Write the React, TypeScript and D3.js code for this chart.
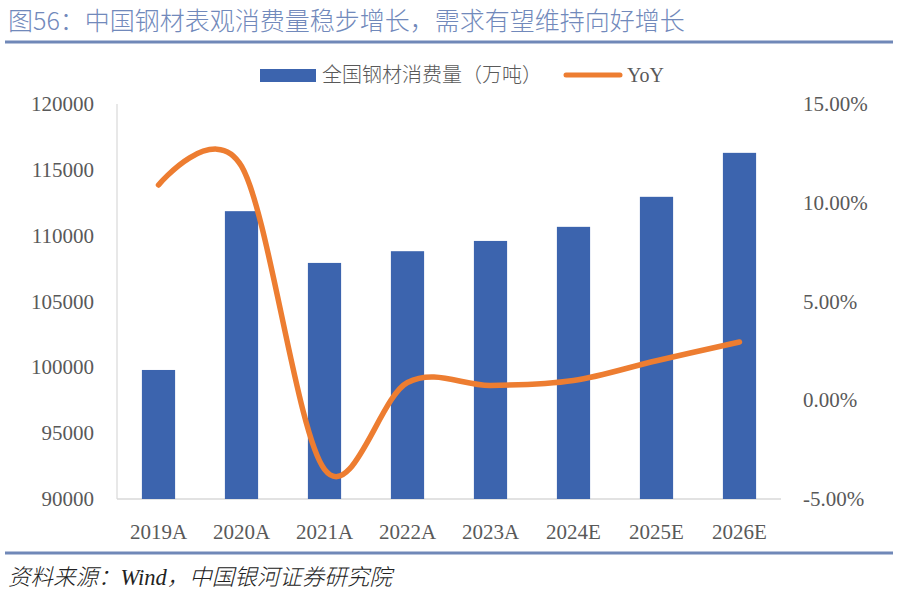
import React from "react";
import * as d3 from "d3";

const categories = ["2019A", "2020A", "2021A", "2022A", "2023A", "2024E", "2025E", "2026E"];
const consumption = [99800, 111860, 107930, 108820, 109600, 110670, 112950, 116290];
const yoy = [10.9, 11.85, -3.5, 0.9, 0.75, 1.0, 2.0, 2.95];
const leftTicks = [90000, 95000, 100000, 105000, 110000, 115000, 120000];
const rightTicks = [-5, 0, 5, 10, 15];

const W = 897;
const H = 596;
const plot = { left: 117, right: 781, top: 104, bottom: 499 };
const serif = "'Liberation Serif', 'DejaVu Serif', serif";
const cjkSerif = "'Liberation Serif', 'Noto Sans CJK SC', serif";
const sans = "'Noto Sans CJK SC', 'Noto Sans', sans-serif";

export default function App() {
  const x = d3.scaleBand<string>().domain(categories).range([plot.left, plot.right]).paddingInner(0.6).paddingOuter(0.3);
  const yL = d3.scaleLinear().domain([90000, 120000]).range([plot.bottom, plot.top]);
  const yR = d3.scaleLinear().domain([-5, 15]).range([plot.bottom, plot.top]);
  const cx = (c: string) => (x(c) ?? 0) + x.bandwidth() / 2;
  const line = d3
    .line<number>()
    .x((_, i) => cx(categories[i]))
    .y((d) => yR(d))
    .curve(d3.curveCardinal.tension(0));

  return (
    <svg width={W} height={H} style={{ position: "absolute", left: 0, top: 0, background: "#fff" }}>
      <text x={8} y={30} fontFamily={sans} fontSize={25} fontWeight={300} fill="#7189bb">
        图56：中国钢材表观消费量稳步增长，需求有望维持向好增长
      </text>
      <line x1={5} x2={893} y1={42} y2={42} stroke="#7088b8" strokeWidth={3} />

      {/* legend */}
      <rect x={260} y={69} width={56} height={13} fill="#3c64ae" />
      <text x={322} y={82} fontFamily={sans} fontSize={20} fontWeight={300} fill="#595959">
        全国钢材消费量（万吨）
      </text>
      <line x1={566} x2={620} y1={75} y2={75} stroke="#ed7d31" strokeWidth={5} strokeLinecap="round" />
      <text x={627} y={82} fontFamily={serif} fontSize={20} fill="#595959">
        YoY
      </text>

      {/* axes */}
      <line x1={plot.left} x2={plot.left} y1={plot.top} y2={plot.bottom} stroke="#d9d9d9" strokeWidth={1.2} />
      <line x1={plot.left} x2={plot.right} y1={plot.bottom} y2={plot.bottom} stroke="#d9d9d9" strokeWidth={1.5} />

      {leftTicks.map((t) => (
        <text key={t} x={94} y={yL(t) + 7} textAnchor="end" fontFamily={serif} fontSize={21} fill="#595959">
          {t}
        </text>
      ))}
      {rightTicks.map((t) => (
        <text key={t} x={803} y={yR(t) + 7} textAnchor="start" fontFamily={serif} fontSize={21} fill="#595959">
          {t.toFixed(2) + "%"}
        </text>
      ))}

      {consumption.map((v, i) => (
        <rect
          key={categories[i]}
          x={x(categories[i])}
          y={yL(v)}
          width={x.bandwidth()}
          height={plot.bottom - yL(v)}
          fill="#3c64ae"
        />
      ))}

      <path d={line(yoy) ?? ""} fill="none" stroke="#ed7d31" strokeWidth={5.5} strokeLinecap="round" strokeLinejoin="round" />

      {categories.map((c) => (
        <text key={c} x={cx(c)} y={539} textAnchor="middle" fontFamily={serif} fontSize={21} fill="#595959">
          {c}
        </text>
      ))}

      <line x1={5} x2={893} y1={553} y2={553} stroke="#7088b8" strokeWidth={3} />
      <text x={8} y={585} fontFamily={cjkSerif} fontSize={22.5} fontWeight={300} fontStyle="italic" fill="#222">
        资料来源：Wind，中国银河证券研究院
      </text>
    </svg>
  );
}
